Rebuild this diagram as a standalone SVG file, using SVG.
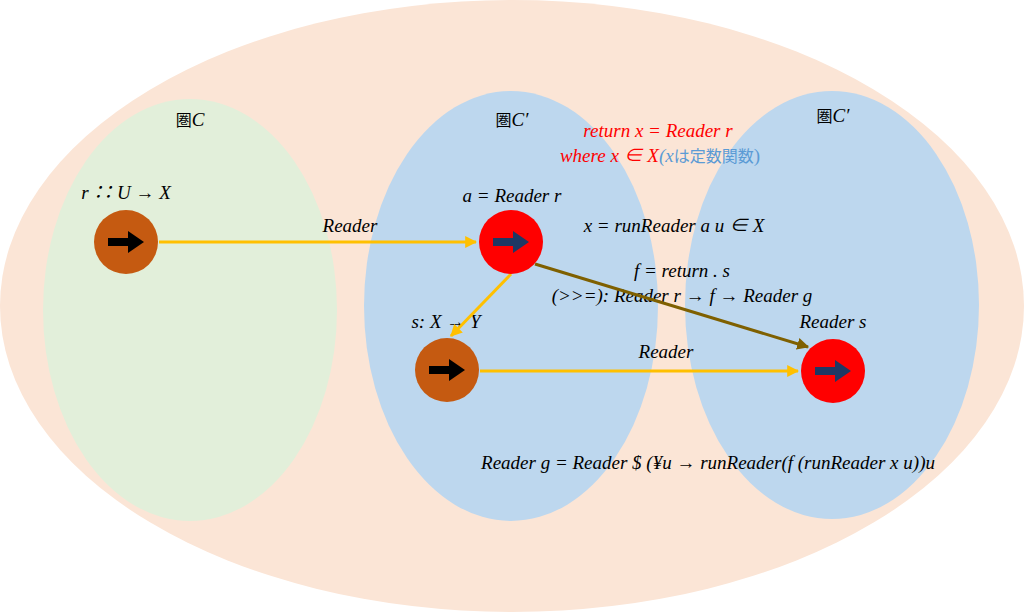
<svg xmlns="http://www.w3.org/2000/svg" width="1024" height="613" viewBox="0 0 1024 613">
<defs>
<style>
text{font-family:"Liberation Serif","Noto Sans CJK JP",serif;font-size:19px;font-style:italic;fill:#000;text-anchor:middle}
.j{font-family:"Noto Sans CJK JP",sans-serif;font-style:normal;font-size:16px}
.y{stroke:#ffc000;stroke-width:3;fill:none}
.o{stroke:#7f6000;stroke-width:3;fill:none}
</style>
<marker id="ay" viewBox="0 0 10 10" refX="9" refY="5" markerWidth="4" markerHeight="4" orient="auto"><path d="M0,0L10,5L0,10z" fill="#ffc000"/></marker>
<marker id="ao" viewBox="0 0 10 10" refX="9" refY="5" markerWidth="4" markerHeight="4" orient="auto"><path d="M0,0L10,5L0,10z" fill="#7f6000"/></marker>
<path id="blk" d="M-18,-4H2V-11L18,0L2,11V4H-18z"/>
</defs>
<ellipse cx="512" cy="306" rx="512" ry="306" fill="#fbe5d6"/>
<ellipse cx="190" cy="310" rx="147" ry="211" fill="#e2efda"/>
<ellipse cx="511" cy="306" rx="147" ry="215" fill="#bdd7ee"/>
<ellipse cx="832" cy="305" rx="147" ry="214" fill="#bdd7ee"/>
<text x="190" y="126"><tspan class="j">圏</tspan>C</text>
<text x="512" y="126"><tspan class="j">圏</tspan>C′</text>
<text x="833" y="122"><tspan class="j">圏</tspan>C′</text>
<text x="658" y="137" fill="#ff0000" style="fill:#ff0000">return x = Reader r</text>
<text x="660" y="162"><tspan style="fill:#ff0000">where x ∈ X</tspan><tspan style="fill:#5b9bd5">(x</tspan><tspan class="j" style="fill:#5b9bd5">は定数関数</tspan><tspan style="fill:#5b9bd5;font-style:normal">)</tspan></text>
<text x="126" y="199">r ∷ U → X</text>
<text x="512" y="202">a = Reader r</text>
<text x="674" y="232">x = runReader a u ∈ X</text>
<text x="350" y="232">Reader</text>
<text x="682" y="277">f = return . s</text>
<text x="682" y="302">(&gt;&gt;=): Reader r → f → Reader g</text>
<text x="446" y="328">s: X → Y</text>
<text x="833" y="328">Reader s</text>
<text x="666" y="358">Reader</text>
<text x="708" y="469">Reader g =  Reader $ (¥u → runReader(f  (runReader x u))u</text>
<g id="connectors">
<path class="y" d="M159,242H476" marker-end="url(#ay)"/>
<path class="y" d="M511,274L451,336" marker-end="url(#ay)"/>
<path class="y" d="M480,371H798" marker-end="url(#ay)"/>
<path class="o" d="M535,264L808,347" marker-end="url(#ao)"/>
</g>
<g id="n1"><circle cx="126" cy="242" r="32" fill="#c55a11"/><use href="#blk" x="126" y="242" fill="#000"/></g>
<g id="n2"><circle cx="511" cy="242" r="32" fill="#ff0000"/><use href="#blk" x="511" y="242" fill="#1f3864"/></g>
<g id="n3"><circle cx="447" cy="370" r="32" fill="#c55a11"/><use href="#blk" x="447" y="370" fill="#000"/></g>
<g id="n4"><circle cx="833" cy="371" r="32" fill="#ff0000"/><use href="#blk" x="833" y="371" fill="#1f3864"/></g>
</svg>
